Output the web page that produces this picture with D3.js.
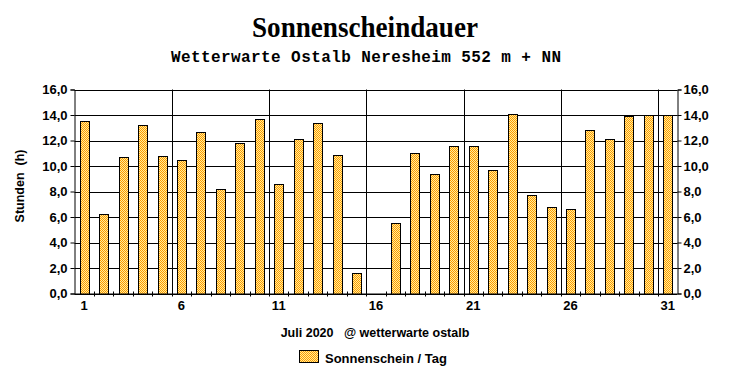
<!DOCTYPE html>
<html><head><meta charset="utf-8">
<script src="https://cdn.jsdelivr.net/npm/d3@7"></script>
<style>
body{margin:0;background:#fff;}
text{font-family:"Liberation Sans",Arial,sans-serif;font-weight:bold;fill:#000;}
</style></head>
<body><svg id="c" width="732" height="380"></svg>
<script>
const days = d3.range(1, 32);
const sunshine = [13.5, 6.2, 10.7, 13.2, 10.8, 10.5, 12.7, 8.2, 11.8, 13.7, 8.6, 12.1, 13.4, 10.9, 1.6, 0, 5.5, 11.0, 9.4, 11.6, 11.6, 9.7, 14.1, 7.7, 6.8, 6.6, 12.8, 12.1, 13.9, 14.0, 14.0];
const dayLabels = [1, 6, 11, 16, 21, 26, 31];
const yTicks = [0, 2, 4, 6, 8, 10, 12, 14, 16];
const titleText = "Sonnenscheindauer";
const subtitleText = "Wetterwarte Ostalb Neresheim 552 m + NN";
const xTitle = "Juli 2020   @ wetterwarte ostalb";
const yTitle = "Stunden  (h)";
const legendLabel = "Sonnenschein / Tag";

const svg = d3.select("#c");
const L = 74.5, R = 677.5, T = 89.5, B = 293.5;

const defs = svg.append("defs");
const pat = defs.append("pattern").attr("id","dither").attr("patternUnits","userSpaceOnUse")
  .attr("width",2).attr("height",2);
pat.append("rect").attr("width",2).attr("height",2).attr("fill","#ffee99");
pat.append("rect").attr("x",0).attr("y",0).attr("width",1).attr("height",1).attr("fill","#ff9900");
pat.append("rect").attr("x",1).attr("y",1).attr("width",1).attr("height",1).attr("fill","#ff9900");

const p = 0.537;
const x = d3.scaleBand().domain(days).range([L, R]).paddingInner(p).paddingOuter(p/2);
const step = x.step();
const y = d3.scaleLinear().domain([0, 16]).range([B, T]);
const bound = i => L + i*step;

// horizontal grid
svg.append("g").selectAll("line").data(yTicks).join("line")
  .attr("x1", L).attr("x2", R).attr("y1", d => Math.round(y(d))+0.5).attr("y2", d => Math.round(y(d))+0.5)
  .attr("stroke","#000").attr("stroke-width",1);
// vertical grid
svg.append("g").selectAll("line").data([5,10,15,20,25,30]).join("line")
  .attr("x1", i => Math.round(bound(i))+0.5).attr("x2", i => Math.round(bound(i))+0.5)
  .attr("y1", T).attr("y2", B).attr("stroke","#000").attr("stroke-width",1);

// bars
svg.append("g").selectAll("rect").data(days.filter((d,i)=>sunshine[i]>0)).join("rect")
  .attr("x", d => Math.round(x(d))+0.5)
  .attr("width", Math.round(x.bandwidth()))
  .attr("y", d => Math.round(y(sunshine[d-1]))+0.5)
  .attr("height", d => Math.round(B) - Math.round(y(sunshine[d-1])))
  .attr("fill","url(#dither)").attr("stroke","#000").attr("stroke-width",1);

// boundary ticks
svg.append("g").selectAll("line").data(d3.range(1,31)).join("line")
  .attr("x1", i => Math.round(bound(i))+0.5).attr("x2", i => Math.round(bound(i))+0.5)
  .attr("y1", B-2).attr("y2", B+3).attr("stroke","#000");

const fmt = d => d3.format(".1f")(d).replace(".", ",");
const yl = svg.append("g").attr("transform",`translate(${L},0)`)
  .call(d3.axisLeft(y).tickValues(yTicks).tickSize(4).tickPadding(3).tickFormat(fmt));
const yr = svg.append("g").attr("transform",`translate(${R},0)`)
  .call(d3.axisRight(y).tickValues(yTicks).tickSize(4).tickPadding(2).tickFormat(fmt));
const xb = svg.append("g").attr("transform",`translate(0,${B})`)
  .call(d3.axisBottom(x).tickValues(dayLabels).tickSize(0).tickPadding(7));
[yl, yr, xb].forEach(g => {
  g.selectAll("text").style("font-size","13px").style("font-weight","bold").attr("fill","#000")
   .style("font-family","'Liberation Sans',Arial,sans-serif");
  g.selectAll("line").attr("stroke","#000");
  g.select(".domain").attr("stroke","#000");
});
xb.select(".domain").attr("d", `M${L},0.5H${R}`);

// titles
svg.append("text").attr("x",365).attr("y",37).attr("text-anchor","middle")
  .style("font-family","'Liberation Serif','Times New Roman',serif").style("font-size","30px")
  .attr("textLength",226).attr("lengthAdjust","spacingAndGlyphs").text(titleText);
svg.append("text").attr("x",366).attr("y",62).attr("text-anchor","middle")
  .style("font-family","'Liberation Mono','Courier New',monospace").style("font-size","16px")
  .attr("textLength",390).attr("lengthAdjust","spacing").text(subtitleText);
svg.append("text").attr("x",375).attr("y",337).attr("text-anchor","middle")
  .style("font-size","12.5px").style("white-space","pre").attr("xml:space","preserve").text(xTitle);
svg.append("text").attr("transform","translate(24,186) rotate(-90)").attr("text-anchor","middle")
  .style("font-size","12.5px").attr("xml:space","preserve").style("white-space","pre").text(yTitle);

// legend
svg.append("rect").attr("x",299.5).attr("y",350.5).attr("width",19).attr("height",12)
  .attr("fill","url(#dither)").attr("stroke","#000");
svg.append("text").attr("x",325).attr("y",363).style("font-size","13px").text(legendLabel);
</script></body></html>
